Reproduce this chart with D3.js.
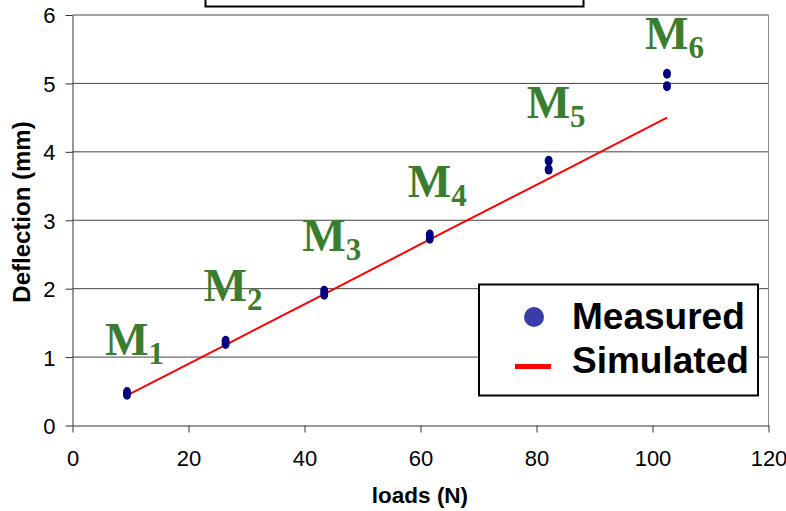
<!DOCTYPE html>
<html>
<head>
<meta charset="utf-8">
<script src="https://cdn.jsdelivr.net/npm/d3@7"></script>
<style>
  body { margin: 0; background: #fff; }
  svg { display: block; }
</style>
</head>
<body>
<svg id="chart" width="786" height="511"></svg>
<script>
// loads (N) at which deflection was measured
const loads = [9.4, 26.4, 43.4, 61.6, 82.1, 102.5];
// two measurements per load (mm)
const measuredLow = [0.45, 1.19, 1.91, 2.73, 3.74, 4.96];
const measuredHigh = [0.49, 1.24, 1.97, 2.79, 3.87, 5.14];
// simulated deflection (mm)
const simulated = [0.44, 1.18, 1.92, 2.72, 3.61, 4.5];
const pointNames = ["1", "2", "3", "4", "5", "6"];
const xTicks = [0, 20, 40, 60, 80, 100, 120];
const yTicks = [0, 1, 2, 3, 4, 5, 6];

const svg = d3.select("#chart");
const x = d3.scaleLinear().domain([0, 120]).range([72.5, 768.5]);
const y = d3.scaleLinear().domain([0, 6]).range([425.5, 15]);

// cut-off title box at the top
svg
  .append("rect")
  .attr("x", 205.5)
  .attr("y", -10)
  .attr("width", 378)
  .attr("height", 16.5)
  .attr("fill", "#fff")
  .attr("stroke", "#000")
  .attr("stroke-width", 2);

// gridlines
svg
  .append("g")
  .selectAll("line")
  .data(yTicks.slice(1))
  .join("line")
  .attr("x1", x(0))
  .attr("x2", x(120))
  .attr("y1", (d) => y(d))
  .attr("y2", (d) => y(d))
  .attr("stroke", "#444")
  .attr("stroke-width", 1);

// right border
svg
  .append("line")
  .attr("x1", x(120))
  .attr("x2", x(120))
  .attr("y1", y(6))
  .attr("y2", y(0))
  .attr("stroke", "#888");

// axes
const xAxis = svg
  .append("g")
  .attr("transform", `translate(0,${y(0)})`)
  .call(
    d3.axisBottom(x).tickValues(xTicks).tickFormat(d3.format("d"))
      .tickSize(7).tickSizeOuter(0).tickPadding(18)
  );
const yAxis = svg
  .append("g")
  .attr("transform", `translate(${x(0)},0)`)
  .call(
    d3.axisLeft(y).tickValues(yTicks).tickFormat(d3.format("d"))
      .tickSize(7).tickSizeOuter(0).tickPadding(10)
  );

[xAxis, yAxis].forEach((ax) => {
  ax.select(".domain").attr("stroke", "#333");
  ax.selectAll(".tick line").attr("stroke", "#333");
  ax.selectAll("text")
    .attr("fill", "#000")
    .style("font-family", "Liberation Sans, Arial, sans-serif")
    .style("font-size", "22px");
});
yAxis.selectAll("text").attr("dy", "0.36em");

// axis titles
svg
  .append("text")
  .attr("x", 420)
  .attr("y", 503)
  .attr("text-anchor", "middle")
  .style("font-family", "Liberation Sans, Arial, sans-serif")
  .style("font-weight", "bold")
  .style("font-size", "22.5px")
  .text("loads (N)");

svg
  .append("text")
  .attr("transform", "translate(30,212) rotate(-90)")
  .attr("text-anchor", "middle")
  .style("font-family", "Liberation Sans, Arial, sans-serif")
  .style("font-weight", "bold")
  .style("font-size", "24px")
  .text("Deflection (mm)");

// simulated line
const line = d3
  .line()
  .x((d, i) => x(loads[i]))
  .y((d) => y(d));

svg
  .append("path")
  .datum(simulated)
  .attr("d", line)
  .attr("fill", "none")
  .attr("stroke", "#ff0000")
  .attr("stroke-width", 2);

// measured points
const measured = loads.flatMap((l, i) => [
  { load: l, value: measuredLow[i] },
  { load: l, value: measuredHigh[i] },
]);

svg
  .append("g")
  .selectAll("ellipse")
  .data(measured)
  .join("ellipse")
  .attr("cx", (d) => x(d.load))
  .attr("cy", (d) => y(d.value))
  .attr("rx", 4)
  .attr("ry", 5)
  .attr("fill", "#000080");

// M labels above each group of points
const labelDy = [-37, -40, -40, -38, -43, -25];
const labels = svg
  .append("g")
  .selectAll("text")
  .data(pointNames)
  .join("text")
  .attr("x", (d, i) => x(loads[i]) - 22)
  .attr("y", (d, i) => y(measuredHigh[i]) + labelDy[i])
  .attr("fill", "#3a7d2f")
  .style("font-family", "Liberation Serif, Times New Roman, serif")
  .style("font-weight", "bold")
  .style("font-size", "46px");
labels.append("tspan").text("M");
labels
  .append("tspan")
  .attr("dy", 9)
  .style("font-size", "31px")
  .text((d) => d);

// legend
const legend = svg.append("g");
legend
  .append("rect")
  .attr("x", 479)
  .attr("y", 284.5)
  .attr("width", 279)
  .attr("height", 111)
  .attr("fill", "#fff")
  .attr("stroke", "#000")
  .attr("stroke-width", 2);
legend
  .append("circle")
  .attr("cx", 534)
  .attr("cy", 317)
  .attr("r", 10)
  .attr("fill", "#3a3da8");
legend
  .append("line")
  .attr("x1", 515)
  .attr("x2", 551)
  .attr("y1", 366.5)
  .attr("y2", 366.5)
  .attr("stroke", "#ff0000")
  .attr("stroke-width", 5);
legend
  .selectAll("text")
  .data(["Measured", "Simulated"])
  .join("text")
  .attr("x", 572)
  .attr("y", (d, i) => 329 + i * 44)
  .style("font-family", "Liberation Sans, Arial, sans-serif")
  .style("font-weight", "bold")
  .style("font-size", "37px")
  .text((d) => d);
</script>
</body>
</html>
